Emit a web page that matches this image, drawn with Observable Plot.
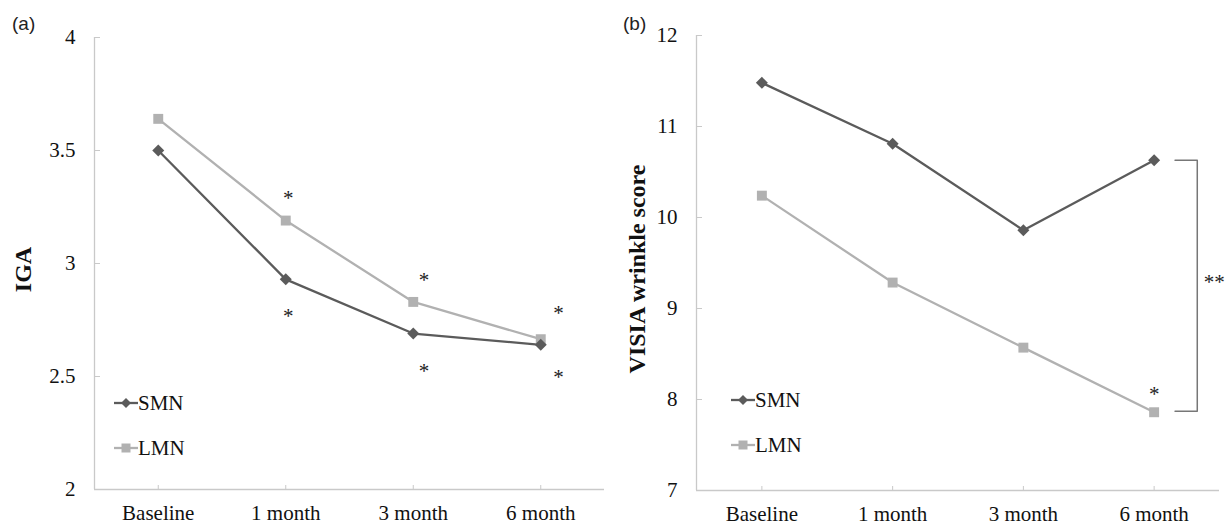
<!DOCTYPE html>
<html><head><meta charset="utf-8">
<script src="https://cdn.jsdelivr.net/npm/d3@7"></script>
<script src="https://cdn.jsdelivr.net/npm/@observablehq/plot@0.6"></script>
<style>
body{margin:0;background:#fff;}
#fig{position:relative;width:1227px;height:525px;display:flex;font-family:"Liberation Serif","Times New Roman",serif;color:#111;}
.panel{position:relative;}
.plabel{position:absolute;top:13px;font-family:"Liberation Sans",Arial,sans-serif;font-size:19px;line-height:22px;color:#222;}
.legend{position:absolute;font-size:21px;line-height:22px;display:flex;align-items:center;color:#111;}
</style></head><body><div id="fig"></div>
<script>
const months = ["Baseline", "1 month", "3 month", "6 month"];
const seriesNames = ["SMN", "LMN"];
const seriesColors = ["#5b5b5b", "#b1b1b1"];
const seriesSymbols = ["diamond2", "square"];

// Panel (a) IGA
const igaSMN = [3.50, 2.93, 2.69, 2.64];
const igaLMN = [3.64, 3.19, 2.83, 2.665];
const igaTicks = [2, 2.5, 3, 3.5, 4];
const igaStarMonth = [1, 1, 2, 2, 3, 3];
const igaStarValue = [3.31, 2.79, 2.95, 2.545, 2.80, 2.52];

// Panel (b) VISIA wrinkle score
const visiaSMN = [11.48, 10.81, 9.86, 10.63];
const visiaLMN = [10.24, 9.285, 8.57, 7.86];
const visiaTicks = [7, 8, 9, 10, 11, 12];
const visiaStarMonth = [3];
const visiaStarValue = [8.11];
const bracketTop = 10.63, bracketBottom = 7.87, bracketLabelValue = 9.34;

const serif = '"Liberation Serif","Times New Roman",serif';
const axisColor = "#c9c9c9";

function rows(smn, lmn) {
  const out = [];
  months.forEach((m, i) => {
    out.push({s: "SMN", i, v: smn[i]});
    out.push({s: "LMN", i, v: lmn[i]});
  });
  return out;
}

function panel({width, marginLeft, marginRight, marginTop, marginBottom, domain, ticks, data, stars, yLabel, extra = []}) {
  const lmn = data.filter(d => d.s === "LMN");
  const smn = data.filter(d => d.s === "SMN");
  return Plot.plot({
    width, height: 525,
    marginLeft, marginRight, marginTop, marginBottom,
    style: {fontFamily: serif, fontSize: "21px", color: "#111", background: "#fff"},
    x: {type: "linear", domain: [-0.5, 3.5], axis: null},
    y: {domain, axis: null},
    marks: [
      Plot.ruleX([-0.5], {stroke: axisColor, strokeWidth: 1.3}),
      Plot.ruleY([domain[0]], {stroke: axisColor, strokeWidth: 1.3}),
      Plot.axisY(ticks, {anchor: "left", tickSize: -6, tickPadding: 25, stroke: axisColor, fill: "#111", fontSize: 21, label: null, tickFormat: d => String(d)}),
      Plot.axisX([0, 1, 2, 3], {anchor: "bottom", tickSize: -4, tickPadding: 20, stroke: axisColor, fill: "#111", fontSize: 21, label: null, tickFormat: i => months[i]}),
      Plot.line(lmn, {x: "i", y: "v", stroke: seriesColors[1], strokeWidth: 2.3}),
      Plot.line(smn, {x: "i", y: "v", stroke: seriesColors[0], strokeWidth: 2.3}),
      Plot.dot(lmn, {x: "i", y: "v", symbol: seriesSymbols[1], r: 5.6, fill: seriesColors[1], stroke: "none"}),
      Plot.dot(smn, {x: "i", y: "v", symbol: seriesSymbols[0], r: 5.4, fill: seriesColors[0], stroke: "none"}),
      Plot.text(stars, {x: "xs", y: "v", text: () => "*", fontSize: 21, fill: "#222", dy: 5}),
      Plot.text([yLabel], {frameAnchor: "left", textAnchor: "middle", dx: 23 - marginLeft, dy: 6, rotate: -90, fontSize: 24, fontWeight: "bold", fill: "#111", text: d => d}),
      ...extra
    ]
  });
}

function legend(left, top) {
  const div = document.createElement("div");
  seriesNames.forEach((name, k) => {
    const row = document.createElement("div");
    row.className = "legend";
    row.style.left = left + "px";
    row.style.top = (top + k * 45 - 11) + "px";
    const sym = k === 0
      ? `<polygon points="12,5 17,10 12,15 7,10" fill="${seriesColors[0]}"/>`
      : `<rect x="7.5" y="5.5" width="9" height="9" fill="${seriesColors[1]}"/>`;
    row.innerHTML = `<svg width="24" height="20"><line x1="0" y1="10" x2="24" y2="10" stroke="${seriesColors[k]}" stroke-width="2.3"/>${sym}</svg><span>${name}</span>`;
    div.appendChild(row);
  });
  return div;
}

const fig = document.getElementById("fig");
// horizontal nudge of the asterisks per month, as a fraction of one category step (style)
const starNudgeA = [0, 0.02, 0.085, 0.14];

// Panel a
const pa = document.createElement("div");
pa.className = "panel";
pa.style.width = "614px";
const igaStars = igaStarMonth.map((m, k) => ({xs: m + starNudgeA[m], v: igaStarValue[k]}));
pa.appendChild(panel({
  width: 614, marginLeft: 94, marginRight: 10, marginTop: 37, marginBottom: 36,
  domain: [2, 4], ticks: igaTicks, data: rows(igaSMN, igaLMN),
  stars: igaStars, yLabel: "IGA"
}));
const la = document.createElement("div"); la.className = "plabel"; la.style.left = "12px"; la.textContent = "(a)";
pa.appendChild(la);
pa.appendChild(legend(114, 403));
fig.appendChild(pa);

// Panel b
const pb = document.createElement("div");
pb.className = "panel";
pb.style.width = "613px";
const visiaStars = visiaStarMonth.map((m, k) => ({xs: m, v: visiaStarValue[k]}));
const bx1 = 3.16, bx2 = 3.33;
pb.appendChild(panel({
  width: 613, marginLeft: 82, marginRight: 8, marginTop: 35, marginBottom: 35,
  domain: [7, 12], ticks: visiaTicks, data: rows(visiaSMN, visiaLMN),
  stars: visiaStars, yLabel: "VISIA wrinkle score",
  extra: [
    Plot.line([{x: bx1, y: bracketTop}, {x: bx2, y: bracketTop}, {x: bx2, y: bracketBottom}, {x: bx1, y: bracketBottom}],
      {x: "x", y: "y", stroke: "#777", strokeWidth: 1.5}),
    Plot.text(["**"], {x: 3.46, y: bracketLabelValue, text: d => d, fontSize: 21, fill: "#222", dy: 5})
  ]
}));
const lb = document.createElement("div"); lb.className = "plabel"; lb.style.left = "9px"; lb.textContent = "(b)";
pb.appendChild(lb);
pb.appendChild(legend(117, 400));
fig.appendChild(pb);
</script>
</body></html>
